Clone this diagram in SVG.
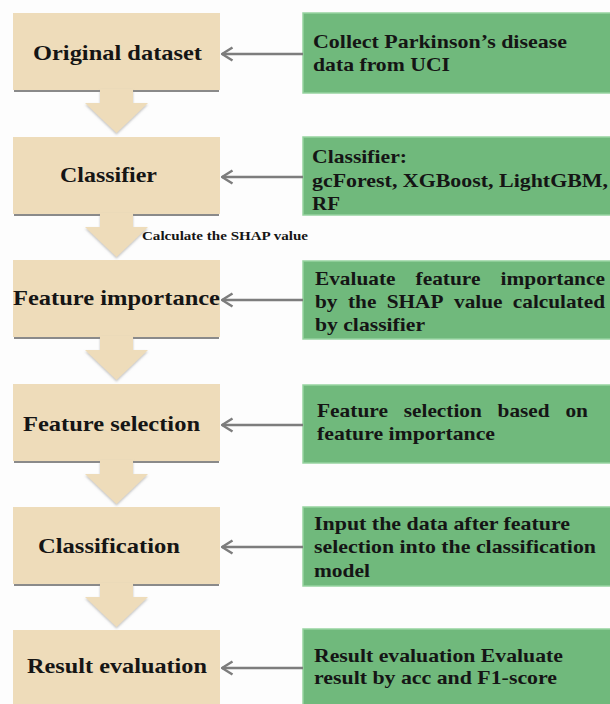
<svg xmlns="http://www.w3.org/2000/svg" width="610" height="704" viewBox="0 0 610 704">
  <defs>
    <style>
      .step { fill: #eedcba; }
      .shade { fill: #8a8a8a; }
      .note { fill: #70b97c; stroke: #96d3a0; stroke-width: 1.5; }
      .step-label { font-family: "Liberation Serif", "Times New Roman", serif; font-weight: bold; font-size: 21px; fill: #151515; }
      .note-label { font-family: "Liberation Serif", "Times New Roman", serif; font-weight: bold; font-size: 19px; fill: #151515; }
      .edge-label { font-family: "Liberation Serif", "Times New Roman", serif; font-weight: bold; font-size: 12px; fill: #151515; }
      .link { stroke: #7d7d7d; stroke-width: 2.5; fill: none; }
      .flow { fill: #eedcba; }
    </style>
    <marker id="chevron" viewBox="0 0 14 16" refX="12.5" refY="8" markerWidth="14" markerHeight="16" markerUnits="userSpaceOnUse" orient="auto">
      <path d="M2 1.5 L12.5 8 L2 14.5" fill="none" stroke="#7d7d7d" stroke-width="2.5" stroke-linejoin="miter"/>
    </marker>
    <filter id="soft" x="-10%" y="-10%" width="120%" height="130%">
      <feDropShadow dx="0" dy="1.5" stdDeviation="1" flood-color="#9a9a9a" flood-opacity="0.6"/>
    </filter>
  </defs>

  <rect x="0" y="0" width="610" height="704" fill="#fdfdfd"/>

  <!-- process steps (left column) -->
  <g id="original-dataset">
    <rect class="shade" x="14" y="88" width="205" height="4"/>
    <rect class="step" x="13" y="13" width="207" height="77"/>
    <text class="step-label" x="33" y="60" textLength="169" lengthAdjust="spacingAndGlyphs">Original dataset</text>
  </g>
  <g id="classifier">
    <rect class="shade" x="14" y="212" width="205" height="4"/>
    <rect class="step" x="13" y="137" width="207" height="77"/>
    <text class="step-label" x="60" y="182" textLength="97" lengthAdjust="spacingAndGlyphs">Classifier</text>
  </g>
  <g id="feature-importance">
    <rect class="shade" x="14" y="335" width="205" height="4"/>
    <rect class="step" x="13" y="260" width="207" height="77"/>
    <text class="step-label" x="13" y="305" textLength="207" lengthAdjust="spacingAndGlyphs">Feature importance</text>
  </g>
  <g id="feature-selection">
    <rect class="shade" x="14" y="459" width="205" height="4"/>
    <rect class="step" x="13" y="384" width="207" height="77"/>
    <text class="step-label" x="23" y="431" textLength="177" lengthAdjust="spacingAndGlyphs">Feature selection</text>
  </g>
  <g id="classification">
    <rect class="shade" x="14" y="582" width="205" height="4"/>
    <rect class="step" x="13" y="507" width="207" height="77"/>
    <text class="step-label" x="38" y="553" textLength="142" lengthAdjust="spacingAndGlyphs">Classification</text>
  </g>
  <g id="result-evaluation">
    <rect class="shade" x="14" y="705" width="205" height="4"/>
    <rect class="step" x="13" y="630" width="207" height="77"/>
    <text class="step-label" x="27" y="673" textLength="180" lengthAdjust="spacingAndGlyphs">Result evaluation</text>
  </g>

  <!-- descriptions (right column) -->
  <g id="note-data">
    <rect class="note" x="303" y="13" width="310" height="80"/>
    <text class="note-label" x="313" y="48" textLength="254" lengthAdjust="spacingAndGlyphs">Collect Parkinson’s disease</text>
    <text class="note-label" x="313" y="71" textLength="137" lengthAdjust="spacingAndGlyphs">data from UCI</text>
  </g>
  <g id="note-classifier">
    <rect class="note" x="303" y="137" width="310" height="78"/>
    <text class="note-label" x="312" y="163" textLength="95" lengthAdjust="spacingAndGlyphs">Classifier:</text>
    <text class="note-label" x="312" y="187" textLength="296" lengthAdjust="spacingAndGlyphs">gcForest, XGBoost, LightGBM,</text>
    <text class="note-label" x="312" y="210" textLength="28" lengthAdjust="spacingAndGlyphs">RF</text>
  </g>
  <g id="note-importance">
    <rect class="note" x="303" y="261" width="310" height="78"/>
    <!-- justified lines: one text per word -->
    <text class="note-label" x="315" y="285" textLength="80.5" lengthAdjust="spacingAndGlyphs">Evaluate</text>
    <text class="note-label" x="415.5" y="285" textLength="65" lengthAdjust="spacingAndGlyphs">feature</text>
    <text class="note-label" x="500.5" y="285" textLength="104.5" lengthAdjust="spacingAndGlyphs">importance</text>
    <text class="note-label" x="315" y="308" textLength="22.5" lengthAdjust="spacingAndGlyphs">by</text>
    <text class="note-label" x="348" y="308" textLength="28.4" lengthAdjust="spacingAndGlyphs">the</text>
    <text class="note-label" x="386.7" y="308" textLength="56.8" lengthAdjust="spacingAndGlyphs">SHAP</text>
    <text class="note-label" x="454" y="308" textLength="48.5" lengthAdjust="spacingAndGlyphs">value</text>
    <text class="note-label" x="512.8" y="308" textLength="92.2" lengthAdjust="spacingAndGlyphs">calculated</text>
    <text class="note-label" x="315" y="331" textLength="110" lengthAdjust="spacingAndGlyphs">by classifier</text>
  </g>
  <g id="note-selection">
    <rect class="note" x="303" y="385" width="310" height="78"/>
    <text class="note-label" x="317" y="417" textLength="71" lengthAdjust="spacingAndGlyphs">Feature</text>
    <text class="note-label" x="403.8" y="417" textLength="78" lengthAdjust="spacingAndGlyphs">selection</text>
    <text class="note-label" x="497.6" y="417" textLength="52" lengthAdjust="spacingAndGlyphs">based</text>
    <text class="note-label" x="565.4" y="417" textLength="22.6" lengthAdjust="spacingAndGlyphs">on</text>
    <text class="note-label" x="317" y="440" textLength="178" lengthAdjust="spacingAndGlyphs">feature importance</text>
  </g>
  <g id="note-classification">
    <rect class="note" x="303" y="507" width="310" height="79"/>
    <text class="note-label" x="314" y="530" textLength="256" lengthAdjust="spacingAndGlyphs">Input the data after feature</text>
    <text class="note-label" x="314" y="553" textLength="282" lengthAdjust="spacingAndGlyphs">selection into the classification</text>
    <text class="note-label" x="314" y="577" textLength="56" lengthAdjust="spacingAndGlyphs">model</text>
  </g>
  <g id="note-evaluation">
    <rect class="note" x="303" y="629" width="310" height="80"/>
    <text class="note-label" x="314" y="662" textLength="249" lengthAdjust="spacingAndGlyphs">Result evaluation Evaluate</text>
    <text class="note-label" x="314" y="684" textLength="243" lengthAdjust="spacingAndGlyphs">result by acc and F1-score</text>
  </g>

  <!-- connectors -->
  <g id="connectors">
    <!-- block arrows between steps -->
    <g filter="url(#soft)">
      <path class="flow" d="M100 89 H133 V103 H148 L116.5 133 L85 103 H100 Z"/>
      <path class="flow" d="M100 213 H133 V227 H148 L116.5 257 L85 227 H100 Z"/>
      <path class="flow" d="M100 336 H133 V350 H148 L116.5 380 L85 350 H100 Z"/>
      <path class="flow" d="M100 460 H133 V474 H148 L116.5 504 L85 474 H100 Z"/>
      <path class="flow" d="M100 583 H133 V597 H148 L116.5 627 L85 597 H100 Z"/>
    </g>
    <text class="edge-label" x="142" y="240" textLength="166" lengthAdjust="spacingAndGlyphs">Calculate the SHAP value</text>

    <!-- description to step links -->
    <line class="link" x1="303" y1="54" x2="222" y2="54" marker-end="url(#chevron)"/>
    <line class="link" x1="303" y1="177" x2="222" y2="177" marker-end="url(#chevron)"/>
    <line class="link" x1="303" y1="300" x2="222" y2="300" marker-end="url(#chevron)"/>
    <line class="link" x1="303" y1="425" x2="222" y2="425" marker-end="url(#chevron)"/>
    <line class="link" x1="303" y1="547" x2="222" y2="547" marker-end="url(#chevron)"/>
    <line class="link" x1="303" y1="668" x2="222" y2="668" marker-end="url(#chevron)"/>
  </g>
</svg>
